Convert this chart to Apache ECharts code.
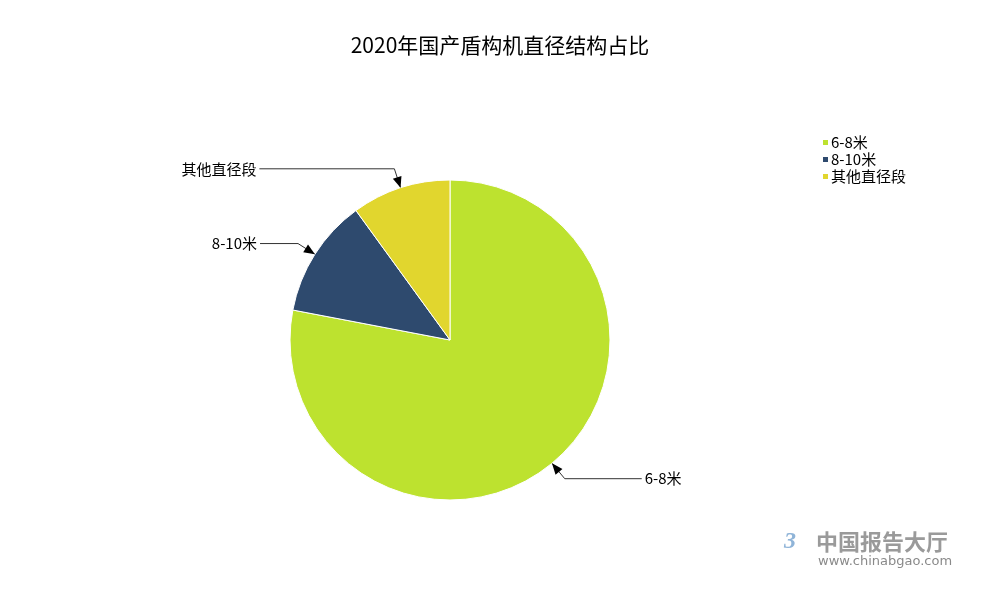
<!DOCTYPE html>
<html><head><meta charset="utf-8">
<script src="https://cdn.jsdelivr.net/npm/echarts@6/dist/echarts.min.js"></script>
<style>html,body{margin:0;padding:0;background:#fff}#c{width:1000px;height:600px}</style>
</head><body><div id="c"></div>
<script>
var categories = ['6-8米', '8-10米', '其他直径段'];
var values = [78, 12, 10];
var colors = ['#bde22f', '#2e4a6e', '#e1d62e'];
var lineLen2 = [77, 38, 135];
var FONT = '"Noto Sans CJK SC", "Noto Sans", sans-serif';

var chart = echarts.init(document.getElementById('c'));
var watermark = [
  {type: 'text', left: 816, top: 531, z: 100,
    style: {text: '中国报告大厅', font: 'bold 22px ' + FONT, fill: '#9a9a9a'}},
  {type: 'text', left: 818, top: 555, z: 100,
    style: {text: 'www.chinabgao.com', font: '13px "DejaVu Sans", sans-serif', fill: '#8a8a8a'}},
  {type: 'text', left: 784, top: 530, z: 100,
    style: {text: '3', font: 'italic bold 24px serif', fill: '#8fb4d8'}}
];
var option = {
  animation: false,
  backgroundColor: '#fff',
  title: {
    text: '2020年国产盾构机直径结构占比',
    left: 'center', top: 30,
    textStyle: {fontFamily: FONT, fontSize: 21, fontWeight: 'normal', color: '#000'}
  },
  legend: {
    orient: 'vertical', left: 816, top: 130,
    itemWidth: 7, itemHeight: 7, itemGap: 2,
    icon: 'rect',
    textStyle: {fontFamily: FONT, fontSize: 15, color: '#000', padding: [0,0,0,-3]},
    data: categories
  },
  graphic: watermark,
  series: [{
    type: 'pie',
    center: [450, 340],
    radius: 160,
    startAngle: 90,
    clockwise: true,
    avoidLabelOverlap: false,
    itemStyle: {borderColor: '#fff', borderWidth: 1},
    label: {fontFamily: FONT, fontSize: 15, color: '#000', formatter: '{b}', distanceToLabelLine: 3},
    labelLine: {length: 20, lineStyle: {color: '#333', width: 1}},
    emphasis: {disabled: true},
    data: categories.map(function (c, i) {
      return {name: c, value: values[i], itemStyle: {color: colors[i]}, labelLine: {length2: lineLen2[i]}};
    })
  }]
};
chart.setOption(option);

function addArrows() {
  try {
    var data = chart.getModel().getSeriesByIndex(0).getData();
    var g = watermark.slice();
    for (var i = 0; i < categories.length; i++) {
      var el = data.getItemGraphicEl(i);
      var line = el && el.getTextGuideLine && el.getTextGuideLine();
      if (!line || !line.shape || !line.shape.points) continue;
      var p = line.shape.points;
      var tip = p[0], nx = p[1];
      var dx = nx[0] - tip[0], dy = nx[1] - tip[1];
      var L = Math.sqrt(dx * dx + dy * dy) || 1;
      dx /= L; dy /= L;
      var len = 11, w = 4.5;
      var bx = tip[0] + dx * len, by = tip[1] + dy * len;
      g.push({
        type: 'polygon', z: 100,
        shape: {points: [[tip[0], tip[1]], [bx - dy * w, by + dx * w], [bx + dy * w, by - dx * w]]},
        style: {fill: '#000'}
      });
    }
    chart.setOption({graphic: g}, {replaceMerge: ['graphic']});
  } catch (e) { console.log(e); }
}
addArrows();
</script>
</body></html>
